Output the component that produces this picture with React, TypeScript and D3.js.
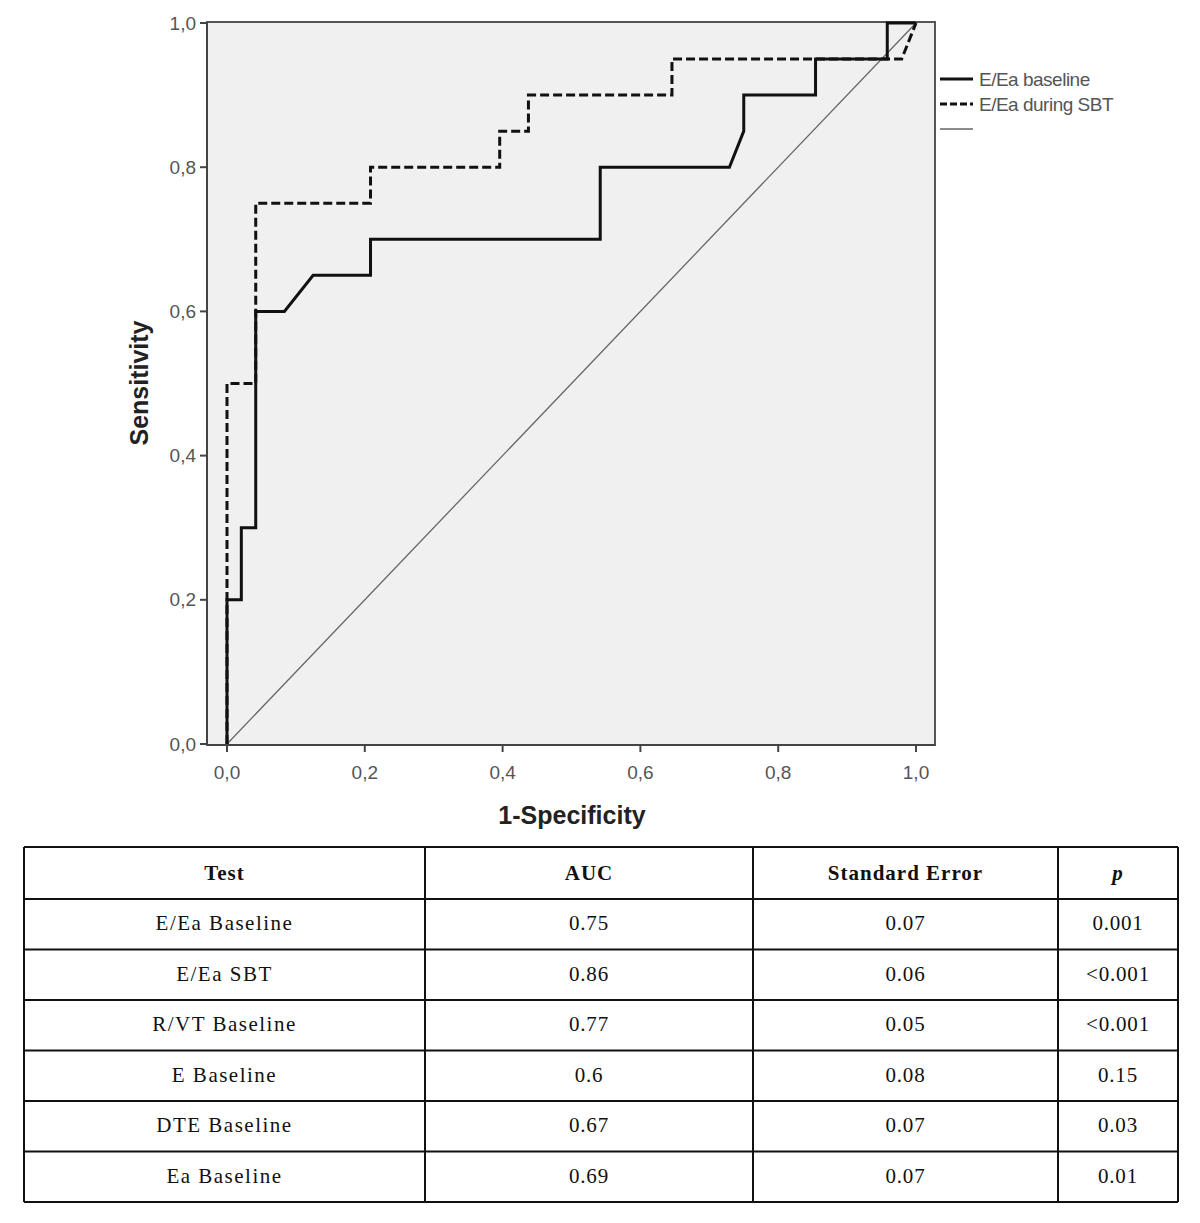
import React from "react";
import * as d3 from "d3";

// ROC curve data (1-Specificity, Sensitivity)
const baselineFpr = [0, 0, 0.0208, 0.0208, 0.0417, 0.0417, 0.0833, 0.125, 0.2083, 0.2083, 0.5417, 0.5417, 0.7292, 0.75, 0.75, 0.8542, 0.8542, 0.9583, 0.9583, 1];
const baselineTpr = [0, 0.2, 0.2, 0.3, 0.3, 0.6, 0.6, 0.65, 0.65, 0.7, 0.7, 0.8, 0.8, 0.85, 0.9, 0.9, 0.95, 0.95, 1, 1];
const sbtFpr = [0, 0, 0.0417, 0.0417, 0.2083, 0.2083, 0.3958, 0.3958, 0.4375, 0.4375, 0.6458, 0.6458, 0.9792, 1];
const sbtTpr = [0, 0.5, 0.5, 0.75, 0.75, 0.8, 0.8, 0.85, 0.85, 0.9, 0.9, 0.95, 0.95, 1];
const refFpr = [0, 1];
const refTpr = [0, 1];
const tickValues = [0, 0.2, 0.4, 0.6, 0.8, 1.0];
const legendLabels = ["E/Ea baseline", "E/Ea during SBT", ""];

// Table data
const tableHeaders = ["Test", "AUC", "Standard Error", "p"];
const tests = ["E/Ea Baseline", "E/Ea SBT", "R/VT Baseline", "E Baseline", "DTE Baseline", "Ea Baseline"];
const aucs = ["0.75", "0.86", "0.77", "0.6", "0.67", "0.69"];
const stdErrors = ["0.07", "0.06", "0.05", "0.08", "0.07", "0.07"];
const pValues = ["0.001", "<0.001", "<0.001", "0.15", "0.03", "0.01"];

const locale = d3.formatLocale({ decimal: ",", thousands: ".", grouping: [3], currency: ["", ""] });
const fmt = locale.format(".1f");

export default function App() {
  const x = d3.scaleLinear().domain([0, 1]).range([227, 916]);
  const y = d3.scaleLinear().domain([0, 1]).range([744, 23]);
  const frame = { left: 207, right: 935, top: 22, bottom: 745 };

  const line = d3.line<[number, number]>().x(d => x(d[0])).y(d => y(d[1]));
  const baseline = line(baselineFpr.map((v, i) => [v, baselineTpr[i]] as [number, number])) || "";
  const sbt = line(sbtFpr.map((v, i) => [v, sbtTpr[i]] as [number, number])) || "";
  const ref = line(refFpr.map((v, i) => [v, refTpr[i]] as [number, number])) || "";

  const legendStyles = [
    { stroke: "#111", width: 3, dash: "" },
    { stroke: "#111", width: 3, dash: "7,3" },
    { stroke: "#666", width: 1.3, dash: "" },
  ];

  // table layout
  const colEdges = [24, 425, 753, 1058, 1178];
  const rowEdges = [847, 899, 949.5, 1000, 1050.5, 1101, 1151.5, 1202];
  const rows = tests.map((t, i) => [t, aucs[i], stdErrors[i], pValues[i]]);

  return (
    <svg width={1200} height={1223} style={{ position: "absolute", left: 0, top: 0, background: "#fff" }}>
      {/* plot background */}
      <rect x={frame.left} y={frame.top} width={frame.right - frame.left} height={frame.bottom - frame.top} fill="#f0f0f0" stroke="#555" strokeWidth={2} />
      {/* y ticks */}
      {tickValues.map(t => (
        <g key={"y" + t}>
          <line x1={frame.left - 7} x2={frame.left} y1={y(t)} y2={y(t)} stroke="#444" strokeWidth={2} />
          <text x={frame.left - 11} y={y(t)} dy="0.35em" textAnchor="end" fontFamily="Liberation Sans, Arial, sans-serif" fontSize={19} fill="#555">{fmt(t)}</text>
        </g>
      ))}
      {/* x ticks */}
      {tickValues.map(t => (
        <g key={"x" + t}>
          <line x1={x(t)} x2={x(t)} y1={frame.bottom} y2={frame.bottom + 7} stroke="#444" strokeWidth={2} />
          <text x={x(t)} y={frame.bottom + 34} textAnchor="middle" fontFamily="Liberation Sans, Arial, sans-serif" fontSize={19} fill="#555">{fmt(t)}</text>
        </g>
      ))}
      {/* axis lines darker */}
      <line x1={frame.left} x2={frame.left} y1={frame.top} y2={frame.bottom} stroke="#444" strokeWidth={2} />
      <line x1={frame.left} x2={frame.right} y1={frame.bottom} y2={frame.bottom} stroke="#444" strokeWidth={2} />

      {/* reference diagonal */}
      <path d={ref} fill="none" stroke="#666" strokeWidth={1.3} />
      {/* curves */}
      <path d={baseline} fill="none" stroke="#111" strokeWidth={3} strokeLinejoin="miter" />
      <path d={sbt} fill="none" stroke="#111" strokeWidth={3} strokeDasharray="9,4" />

      {/* axis titles */}
      <text x={572} y={824} textAnchor="middle" fontFamily="Liberation Sans, Arial, sans-serif" fontWeight="bold" fontSize={25} fill="#222">1-Specificity</text>
      <text transform={`translate(148,383) rotate(-90)`} textAnchor="middle" fontFamily="Liberation Sans, Arial, sans-serif" fontWeight="bold" fontSize={25} fill="#222">Sensitivity</text>

      {/* legend */}
      {legendLabels.map((lab, i) => (
        <g key={"lg" + i}>
          <line x1={940} x2={973} y1={79 + i * 25} y2={79 + i * 25} stroke={legendStyles[i].stroke} strokeWidth={legendStyles[i].width} strokeDasharray={legendStyles[i].dash} />
          <text x={979} y={79 + i * 25} dy="0.35em" fontFamily="Liberation Sans, Arial, sans-serif" fontSize={19} fill="#555" letterSpacing={-0.5}>{lab}</text>
        </g>
      ))}

      {/* table */}
      <g fontFamily="Liberation Serif, Times New Roman, serif" fill="#111">
        {rowEdges.map((ry, i) => (
          <line key={"r" + i} x1={colEdges[0]} x2={colEdges[colEdges.length - 1]} y1={ry} y2={ry} stroke="#111" strokeWidth={2} />
        ))}
        {colEdges.map((cx, i) => (
          <line key={"c" + i} x1={cx} x2={cx} y1={rowEdges[0]} y2={rowEdges[rowEdges.length - 1]} stroke="#111" strokeWidth={2} />
        ))}
        {tableHeaders.map((h, j) => (
          <text key={"h" + j} x={(colEdges[j] + colEdges[j + 1]) / 2} y={(rowEdges[0] + rowEdges[1]) / 2 + 7} textAnchor="middle" fontSize={21} fontWeight="bold" fontStyle={j === 3 ? "italic" : "normal"} letterSpacing={1}>{h}</text>
        ))}
        {rows.map((r, i) => r.map((v, j) => (
          <text key={"t" + i + "-" + j} x={(colEdges[j] + colEdges[j + 1]) / 2} y={(rowEdges[i + 1] + rowEdges[i + 2]) / 2 + 6} textAnchor="middle" fontSize={21} letterSpacing={j === 0 ? 1.5 : 0.8}>{v}</text>
        )))}
      </g>
    </svg>
  );
}
